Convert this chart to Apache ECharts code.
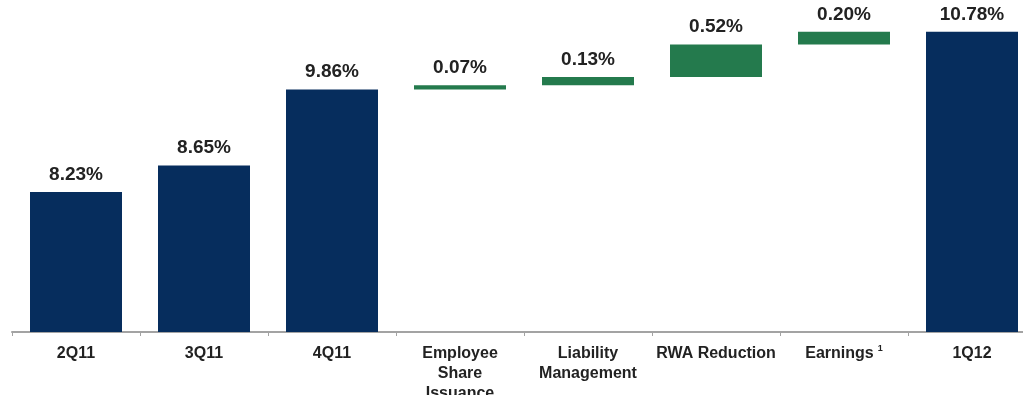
<!DOCTYPE html>
<html>
<head>
<meta charset="utf-8">
<script src="https://cdn.jsdelivr.net/npm/echarts@6/dist/echarts.min.js"></script>
<style>
html,body{margin:0;padding:0;background:#fff;}
#chart{width:1023px;height:395px;}
</style>
</head>
<body>
<div id="chart"></div>
<script>
var categories = ['2Q11', '3Q11', '4Q11', 'Employee\nShare\nIssuance', 'Liability\nManagement', 'RWA Reduction', 'Earnings{sup|1}', '1Q12'];
var values = [8.23, 8.65, 9.86, 0.07, 0.13, 0.52, 0.20, 10.78];
var kinds = ['total', 'total', 'total', 'delta', 'delta', 'delta', 'delta', 'total'];

var NAVY = '#062d5d';
var GREEN = '#247a4d';

var baseData = [];
var barData = [];
var running = 0;
for (var i = 0; i < values.length; i++) {
  if (kinds[i] === 'total') {
    baseData.push(0);
    running = values[i];
    barData.push({ value: values[i], itemStyle: { color: NAVY } });
  } else {
    baseData.push(running);
    running = +(running + values[i]).toFixed(2);
    barData.push({ value: values[i], itemStyle: { color: GREEN } });
  }
}

var chart = echarts.init(document.getElementById('chart'), null, { renderer: 'canvas' });
chart.setOption({
  animation: false,
  backgroundColor: '#ffffff',
  grid: { left: 12, right: -13, top: 18, bottom: 63, containLabel: false, outerBoundsMode: 'none' },
  xAxis: {
    type: 'category',
    data: categories,
    axisLine: { show: true, lineStyle: { color: '#a3a3a3', width: 2 } },
    axisTick: { show: true, length: 4, lineStyle: { color: '#a3a3a3', width: 1 } },
    axisLabel: {
      interval: 0,
      margin: 12,
      color: '#222',
      fontFamily: 'Liberation Sans, Arial, sans-serif',
      fontWeight: 'bold',
      fontSize: 16,
      lineHeight: 20,
      rich: {
        sup: { fontSize: 9, fontWeight: 'bold', verticalAlign: 'top', padding: [0, 0, 8, 4], color: '#222', fontFamily: 'Liberation Sans, Arial, sans-serif' }
      }
    }
  },
  yAxis: {
    type: 'value',
    min: 6,
    max: 11,
    show: false,
    splitLine: { show: false }
  },
  series: [
    {
      type: 'bar',
      stack: 'wf',
      data: baseData,
      barWidth: 92,
      itemStyle: { color: 'rgba(0,0,0,0)' },
      emphasis: { disabled: true },
      silent: true
    },
    {
      type: 'bar',
      stack: 'wf',
      data: barData,
      barWidth: 92,
      label: {
        show: true,
        position: 'top',
        distance: 8,
        color: '#222',
        fontFamily: 'Liberation Sans, Arial, sans-serif',
        fontWeight: 'bold',
        fontSize: 19,
        formatter: function (p) { return p.value.toFixed(2) + '%'; }
      }
    }
  ]
});
</script>
</body>
</html>
